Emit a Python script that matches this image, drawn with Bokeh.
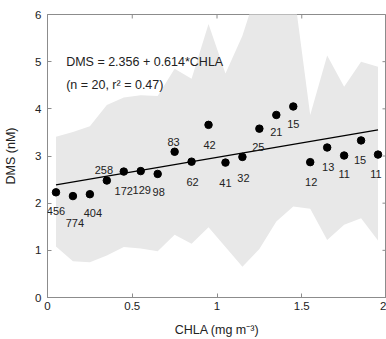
from bokeh.plotting import figure
from bokeh.models import ColumnDataSource, FixedTicker, Label, LabelSet, Range1d
from bokeh.core.properties import value
from bokeh.embed import file_html
from bokeh.resources import INLINE

# ---- data ----
chla = [0.05, 0.15, 0.25, 0.35, 0.45, 0.55, 0.65, 0.75, 0.85, 0.95,
        1.05, 1.15, 1.25, 1.35, 1.45, 1.55, 1.65, 1.75, 1.85, 1.95]
dms = [2.23, 2.15, 2.19, 2.48, 2.67, 2.68, 2.62, 3.09, 2.88, 3.66,
       2.86, 2.98, 3.58, 3.87, 4.05, 2.87, 3.18, 3.01, 3.33, 3.03]
n_obs = ["456", "774", "404", "258", "172", "129", "98", "83", "62", "42",
         "41", "32", "25", "21", "15", "12", "13", "11", "15", "11"]
band_upper = [3.41, 3.51, 3.63, 4.08, 4.24, 4.29, 4.27, 4.85, 4.64, 5.80,
              4.75, 5.55, 6.67, 7.00, 6.60, 3.87, 5.13, 4.47, 5.00, 4.89]
band_lower = [1.08, 0.77, 0.75, 0.89, 1.07, 1.04, 0.98, 1.33, 1.14, 1.49,
              1.07, 0.65, 1.03, 1.61, 1.93, 1.88, 1.22, 1.54, 1.68, 1.21]
intercept = 2.356
slope = 0.614
n_total = 20
r2 = 0.47

x_ticks = [0, 0.5, 1, 1.5, 2]
x_tick_labels = ["0", "0.5", "1", "1.5", "2"]
y_ticks = [0, 1, 2, 3, 4, 5, 6]
y_tick_labels = ["0", "1", "2", "3", "4", "5", "6"]

# label placement (screen pixels) for the count labels
label_dx = [0, 2, 3, -3, 0, 1, 1, -1, 1, 1, 0, 1, -1, 0, 0, 1, 1, 0, -1, -2]
label_dy = [-19, -27, -19, 11, -19, -19, -18, 10, -20, -20,
            -20, -21, -18, -17, -18, -20, -19, -18, -20, -19]

FONT = "Liberation Sans"
GREY = "#8c8c8c"
TEXT = "#222222"
X0, X1, Y0, Y1 = 0, 2, 0, 6

p = figure(width=386, height=339, x_range=Range1d(X0, X1), y_range=Range1d(Y0, Y1),
           output_backend="svg", toolbar_location=None,
           min_border_left=47, min_border_right=0, min_border_top=14, min_border_bottom=41)
p.background_fill_color = "white"
p.border_fill_color = "white"
p.outline_line_color = GREY
p.grid.visible = False

# band
p.varea(x=chla, y1=band_lower, y2=band_upper, fill_color="#e8e8e8")

# regression line
fit_x = [chla[0], chla[-1]]
fit_y = [intercept + slope * v for v in fit_x]
p.line(x=fit_x, y=fit_y, line_color="black", line_width=1.2)

# inward ticks on the top and right frame edges (MATLAB style box ticks)
frame_w, frame_h = 338, 284
tick_px = 4
tx = (X1 - X0) * tick_px / frame_w
ty = (Y1 - Y0) * tick_px / frame_h
p.segment(x0=x_ticks, x1=x_ticks, y0=[Y1] * len(x_ticks), y1=[Y1 - ty] * len(x_ticks),
          line_color=GREY, line_width=1)
p.segment(x0=[X1] * len(y_ticks), x1=[X1 - tx] * len(y_ticks), y0=y_ticks, y1=y_ticks,
          line_color=GREY, line_width=1)

# points
src = ColumnDataSource(dict(x=chla, y=dms, t=n_obs, dx=label_dx, dy=label_dy))
p.scatter(x="x", y="y", source=src, size=7.5, fill_color="black", line_color="black")

labels = LabelSet(x="x", y="y", text="t", x_offset="dx", y_offset="dy", source=src,
                  text_font=value(FONT), text_font_size=value("11px"),
                  text_color=value(TEXT),
                  text_align="center", text_baseline="middle")
p.add_layout(labels)

eq1 = Label(x=0.11, y=5.0, text=f"DMS = {intercept} + {slope}*CHLA",
            text_font=FONT, text_font_size="12.5px", text_color=TEXT,
            text_baseline="middle", text_align="left")
eq2 = Label(x=0.11, y=4.5, text=f"(n = {n_total}, r\u00b2 = {r2})",
            text_font=FONT, text_font_size="12.5px", text_color=TEXT,
            text_baseline="middle", text_align="left")
p.add_layout(eq1)
p.add_layout(eq2)

# axes
def style_axis(ax, ticks, labels_):
    ax.ticker = FixedTicker(ticks=ticks)
    ax.major_label_overrides = {t: l for t, l in zip(ticks, labels_)}
    ax.major_tick_in = 4
    ax.major_tick_out = 0
    ax.minor_tick_line_color = None
    ax.axis_line_color = GREY
    ax.major_tick_line_color = GREY
    ax.major_label_text_font = FONT
    ax.major_label_text_font_size = "11.5px"
    ax.major_label_text_color = TEXT
    ax.axis_label_text_font = FONT
    ax.axis_label_text_font_size = "12.5px"
    ax.axis_label_text_font_style = "normal"
    ax.axis_label_text_color = TEXT

xa = p.xaxis[0]
style_axis(xa, x_ticks, x_tick_labels)
xa.axis_label = "CHLA (mg m\u207b\u00b3)"
xa.major_label_standoff = 4
xa.axis_label_standoff = 10

ya = p.yaxis[0]
style_axis(ya, y_ticks, y_tick_labels)
ya.axis_label = "DMS (nM)"
ya.major_label_standoff = 6
ya.axis_label_standoff = 14

open("out.html", "w").write(file_html(p, INLINE))
